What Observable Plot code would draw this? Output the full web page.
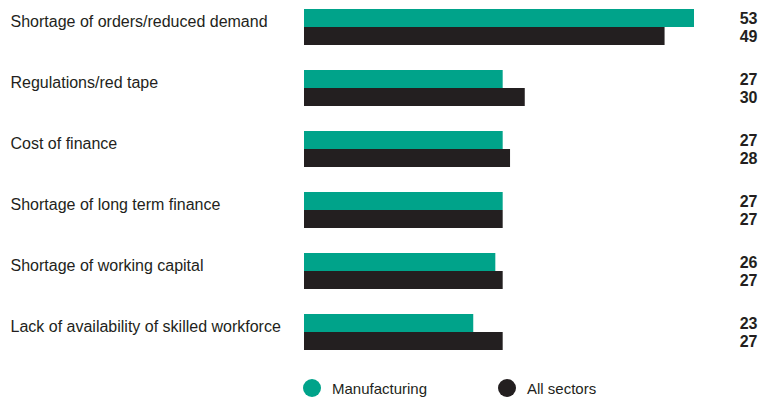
<!DOCTYPE html>
<html>
<head>
<meta charset="utf-8">
<script src="https://cdn.jsdelivr.net/npm/d3@7"></script>
<script src="https://cdn.jsdelivr.net/npm/@observablehq/plot@0.6"></script>
<style>
  html, body { margin: 0; padding: 0; background: #fff; }
  #chart { width: 771px; }
  .legend { position: relative; width: 771px; height: 31px; font-family: "Liberation Sans", Arial, sans-serif; font-size: 15px; color: #231f20; }
  .legend .item { position: absolute; top: 9px; display: flex; align-items: center; }
  .legend .sw { width: 18px; height: 18px; border-radius: 50%; margin-right: 11px; }
</style>
</head>
<body>
<div id="chart"></div>
<script>
const categories = [
  "Shortage of orders/reduced demand",
  "Regulations/red tape",
  "Cost of finance",
  "Shortage of long term finance",
  "Shortage of working capital",
  "Lack of availability of skilled workforce"
];
const seriesNames = ["Manufacturing", "All sectors"];
const manufacturing = [53, 27, 27, 27, 26, 23];
const allSectors = [49, 30, 28, 27, 27, 27];
const colors = ["#00a38a", "#231f20"];

const rows = [];
categories.forEach((c, i) => {
  rows.push({category: c, series: seriesNames[0], value: manufacturing[i]});
  rows.push({category: c, series: seriesNames[1], value: allSectors[i]});
});

const labelFont = "'Liberation Sans', Arial, sans-serif";

const chart = Plot.plot({
  width: 771,
  height: 370,
  marginTop: 8,
  marginBottom: 19,
  marginLeft: 0,
  marginRight: 0,
  x: {domain: [0, 53], range: [304, 694], axis: null},
  y: {domain: seriesNames, padding: 0, axis: null},
  fy: {domain: categories, paddingInner: 0.414, paddingOuter: 0, axis: null},
  color: {domain: seriesNames, range: colors},
  marks: [
    Plot.barX(rows, {x: "value", y: "series", fy: "category", fill: "series"}),
    Plot.text(rows, {
      y: "series", fy: "category", text: d => String(d.value),
      frameAnchor: "right", textAnchor: "end", dx: -14,
      fontWeight: "bold", fontSize: 16, fill: "#231f20",
      fontFamily: "'Liberation Sans', Arial, sans-serif"
    }),
    Plot.text(categories, {
      fy: d => d, text: d => d,
      frameAnchor: "top-left", textAnchor: "start", lineAnchor: "middle",
      dx: 10, dy: 12, fontSize: 16, fill: "#231f20",
      fontFamily: labelFont
    })
  ]
});
document.getElementById("chart").appendChild(chart);

const legend = document.createElement("div");
legend.className = "legend";
const lefts = [303, 498];
seriesNames.forEach((s, i) => {
  const item = document.createElement("div");
  item.className = "item";
  item.style.left = lefts[i] + "px";
  const sw = document.createElement("span");
  sw.className = "sw";
  sw.style.background = colors[i];
  const t = document.createElement("span");
  t.textContent = s;
  item.appendChild(sw);
  item.appendChild(t);
  legend.appendChild(item);
});
document.body.appendChild(legend);
</script>
</body>
</html>
